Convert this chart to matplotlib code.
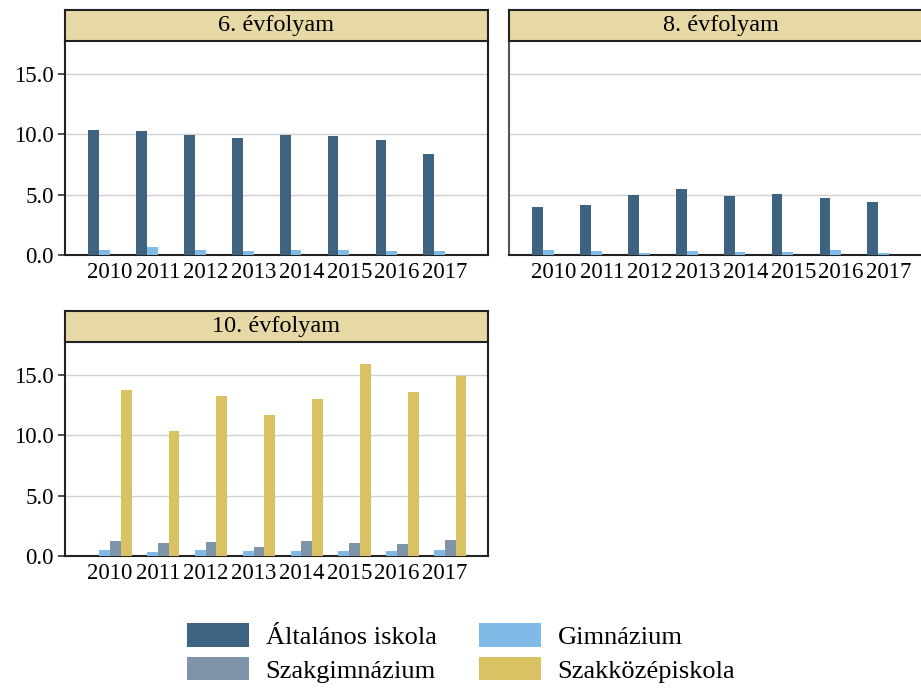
import matplotlib
matplotlib.use("Agg")
import matplotlib.pyplot as plt
import numpy as np
from matplotlib.patches import Patch

plt.rcParams['font.family'] = ['Liberation Serif', 'DejaVu Serif']

years = ['2010', '2011', '2012', '2013', '2014', '2015', '2016', '2017']
series = ['Általános iskola', 'Gimnázium', 'Szakgimnázium', 'Szakközépiskola']
colors = ['#3e6380', '#7fbbe6', '#7f93ab', '#d9c264']
panels = ['6. évfolyam', '8. évfolyam', '10. évfolyam']

nan = np.nan
g6_altalanos = [10.36, 10.27, 9.94, 9.69, 9.94, 9.86, 9.53, 8.37]
g6_gimnazium = [0.40, 0.70, 0.40, 0.29, 0.45, 0.40, 0.29, 0.29]
g8_altalanos = [3.98, 4.17, 4.97, 5.47, 4.92, 5.05, 4.72, 4.39]
g8_gimnazium = [0.41, 0.33, 0.17, 0.33, 0.25, 0.25, 0.41, 0.17]
g10_gimnazium = [0.47, 0.30, 0.47, 0.39, 0.39, 0.39, 0.39, 0.47]
g10_szakgimnazium = [1.20, 1.05, 1.13, 0.72, 1.20, 1.06, 0.97, 1.33]
g10_szakkozep = [13.75, 10.35, 13.25, 11.68, 13.00, 15.90, 13.58, 14.91]
empty = [nan] * 8

data = {
    '6. évfolyam': [g6_altalanos, g6_gimnazium, empty, empty],
    '8. évfolyam': [g8_altalanos, g8_gimnazium, empty, empty],
    '10. évfolyam': [empty, g10_gimnazium, g10_szakgimnazium, g10_szakkozep],
}

W, H = 921, 689
fig = plt.figure(figsize=(W / 100, H / 100), dpi=100)

boxes = {
    '6. évfolyam': (65, 41, 488, 255),
    '8. évfolyam': (509, 41, 932, 255),
    '10. évfolyam': (65, 342, 488, 556),
}
strip_h = 31

x = np.arange(len(years))
bw = 0.225
for name in panels:
    l, t, r, b = boxes[name]
    ax = fig.add_axes([l / W, 1 - b / H, (r - l) / W, (b - t) / H])
    for i, (vals, c) in enumerate(zip(data[name], colors)):
        ax.bar(x + (i - 1.5) * bw, vals, width=bw, color=c, zorder=3)
    ax.set_xlim(-0.94, 7.9)
    ax.set_ylim(0, 17.7)
    ax.set_yticks([0, 5, 10, 15])
    ax.yaxis.grid(True, color='#d0d0d0', linewidth=1, zorder=0)
    ax.set_xticks(x)
    ax.set_xticklabels(years, fontsize=16.5)
    ax.tick_params(axis='x', length=0, pad=5)
    if name == '8. évfolyam':
        ax.tick_params(axis='y', length=0, labelleft=False)
    else:
        ax.set_yticklabels(['0.0', '5.0', '10.0', '15.0'], fontsize=16.5)
        ax.tick_params(axis='y', length=5, width=1.2, color='#333333', pad=3)
    for s in ['left', 'bottom', 'right']:
        ax.spines[s].set_color('#222222')
        ax.spines[s].set_linewidth(1.5)
    ax.spines['top'].set_visible(False)
    if name == '8. évfolyam':
        ax.spines['left'].set_color('#555555')
    sax = fig.add_axes([l / W, 1 - t / H, (r - l) / W, strip_h / H])
    sax.set_facecolor('#e6d9a6')
    sax.set_xticks([])
    sax.set_yticks([])
    for s in sax.spines.values():
        s.set_color('#222222')
        s.set_linewidth(1.5)
    sax.text(0.5, 0.5, name, ha='center', va='center', fontsize=17.5,
             transform=sax.transAxes)

order = [0, 2, 1, 3]
handles = [Patch(facecolor=colors[k], edgecolor='none', label=series[k]) for k in order]
fig.legend(handles=handles, loc='center', bbox_to_anchor=(461 / W, 1 - 653 / H),
           ncol=2, frameon=False, fontsize=19, handlelength=2.35, handleheight=0.98,
           handletextpad=0.64, columnspacing=1.6, labelspacing=0.3,
           borderpad=0, borderaxespad=0)

fig.savefig('out.png', dpi=100)
